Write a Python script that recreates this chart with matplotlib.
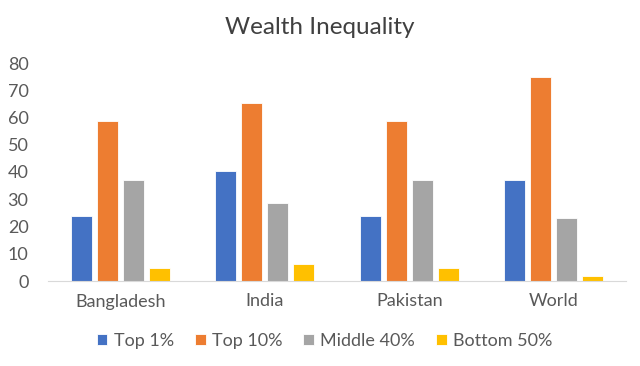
import matplotlib.pyplot as plt
import numpy as np

plt.rcParams['font.family'] = ['Lato', 'DejaVu Sans']

countries = ['Bangladesh', 'India', 'Pakistan', 'World']
series = ['Top 1%', 'Top 10%', 'Middle 40%', 'Bottom 50%']
top1 = [24, 40.2, 24, 37]
top10 = [58.7, 65.2, 58.7, 75]
middle40 = [36.9, 28.7, 36.9, 23]
bottom50 = [4.7, 6.4, 4.7, 1.9]
colors = ['#4472c4', '#ed7d31', '#a5a5a5', '#ffc000']

values = [top1, top10, middle40, bottom50]

fig = plt.figure(figsize=(6.4, 3.66), dpi=100)
ax = fig.add_axes([48/640, 1-281/366, 578/640, (281-63)/366])

x = np.arange(len(countries))
pitch = 0.18
width = 0.145
for i, (name, vals) in enumerate(zip(series, values)):
    ax.bar(x + (i - 1.5) * pitch, vals, width, color=colors[i], label=name,
           edgecolor='white', linewidth=0.6)

ax.set_xlim(-0.5, 3.5)
ax.set_ylim(0, 80)
ax.set_yticks(range(0, 81, 10))
ax.set_xticks(x)
ax.set_xticklabels(countries)
ax.tick_params(axis='both', length=0, colors='#595959', labelsize=13)
ax.tick_params(axis='x', pad=9)
ax.tick_params(axis='y', pad=14)
for s in ['top', 'right', 'left']:
    ax.spines[s].set_visible(False)
ax.spines['bottom'].set_color('#d9d9d9')

fig.text(0.5, 1-28/366, 'Wealth Inequality', ha='center', va='center',
         fontsize=17.5, color='#404040')

fig.legend(loc='center', bbox_to_anchor=(0.507, 1-341/366), ncol=4,
           frameon=False, fontsize=13, handlelength=0.6, handleheight=0.6,
           handletextpad=0.35, columnspacing=1.15, labelcolor='#595959')

fig.savefig('out.png', dpi=100)
